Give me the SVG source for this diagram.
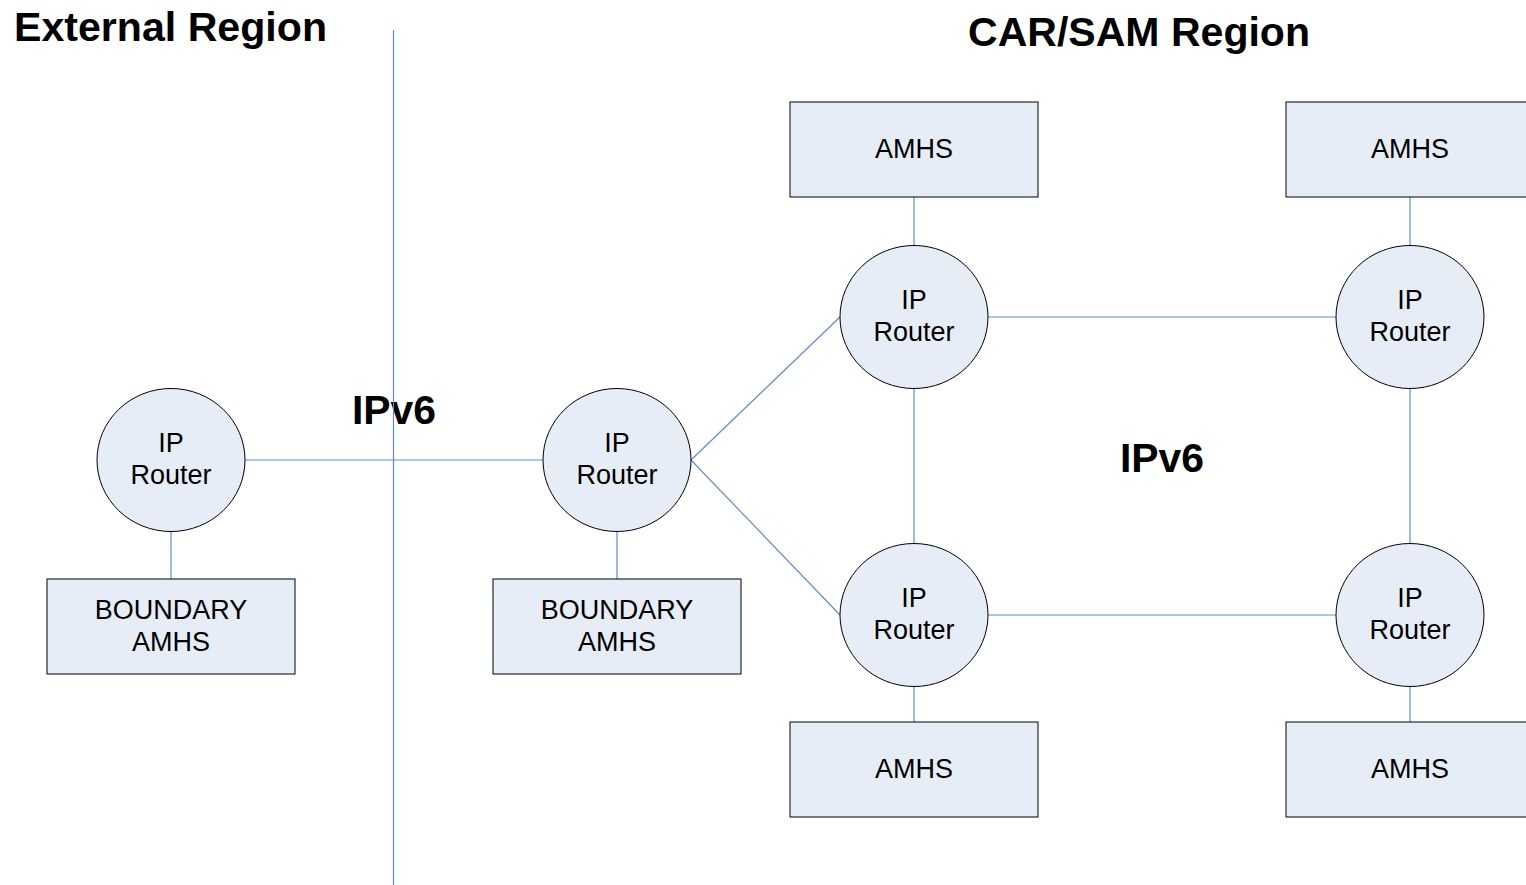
<svg xmlns="http://www.w3.org/2000/svg" width="1526" height="885" viewBox="0 0 1526 885">
<style>
.box{fill:#e7edf7;stroke:#000;stroke-width:1}
.rt{fill:#e7edf7;stroke:#000;stroke-width:1}
.ln{stroke:#6389cc;stroke-width:1.2;fill:none}
.t{font-family:"Liberation Sans",Arial,sans-serif;font-size:27px;fill:#000;text-anchor:middle}
.h{font-family:"Liberation Sans",Arial,sans-serif;font-size:41px;font-weight:bold;fill:#000}
</style>
<rect width="1526" height="885" fill="#fff"/>
<g id="connectors">
<line class="ln" x1="245" y1="460" x2="543" y2="460"/>
<line class="ln" x1="171" y1="531" x2="171" y2="579"/>
<line class="ln" x1="617" y1="531" x2="617" y2="579"/>
<line class="ln" x1="691" y1="460" x2="840" y2="317"/>
<line class="ln" x1="691" y1="460" x2="840" y2="615"/>
<line class="ln" x1="914" y1="197" x2="914" y2="245"/>
<line class="ln" x1="914" y1="388" x2="914" y2="543"/>
<line class="ln" x1="914" y1="686" x2="914" y2="722"/>
<line class="ln" x1="1410" y1="197" x2="1410" y2="245"/>
<line class="ln" x1="1410" y1="388" x2="1410" y2="543"/>
<line class="ln" x1="1410" y1="686" x2="1410" y2="722"/>
<line class="ln" x1="988" y1="317" x2="1336" y2="317"/>
<line class="ln" x1="988" y1="615" x2="1336" y2="615"/>
</g>
<g id="labels">
<text class="h" x="14" y="41" textLength="313" lengthAdjust="spacingAndGlyphs">External Region</text>
<text class="h" x="968" y="46" textLength="342" lengthAdjust="spacingAndGlyphs">CAR/SAM Region</text>
<text class="h" x="352" y="424" textLength="84" lengthAdjust="spacingAndGlyphs">IPv6</text>
<text class="h" x="1120" y="472" textLength="84" lengthAdjust="spacingAndGlyphs">IPv6</text>
</g>
<g id="divider"><line class="ln" x1="393.5" y1="30" x2="393.5" y2="885"/></g>
<g id="router-ext"><ellipse class="rt" cx="171" cy="460" rx="74" ry="71.5"/><text class="t" x="171" y="452">IP</text><text class="t" x="171" y="484">Router</text></g>
<g id="boundary-ext"><rect class="box" x="47" y="579" width="248" height="95"/><text class="t" x="171" y="619">BOUNDARY</text><text class="t" x="171" y="651">AMHS</text></g>
<g id="router-mid"><ellipse class="rt" cx="617" cy="460" rx="74" ry="71.5"/><text class="t" x="617" y="452">IP</text><text class="t" x="617" y="484">Router</text></g>
<g id="boundary-mid"><rect class="box" x="493" y="579" width="248" height="95"/><text class="t" x="617" y="619">BOUNDARY</text><text class="t" x="617" y="651">AMHS</text></g>
<g id="amhs-tl"><rect class="box" x="790" y="102" width="248" height="95"/><text class="t" x="914" y="158">AMHS</text></g>
<g id="amhs-tr"><rect class="box" x="1286" y="102" width="248" height="95"/><text class="t" x="1410" y="158">AMHS</text></g>
<g id="router-tl"><ellipse class="rt" cx="914" cy="317" rx="74" ry="71.5"/><text class="t" x="914" y="309">IP</text><text class="t" x="914" y="341">Router</text></g>
<g id="router-tr"><ellipse class="rt" cx="1410" cy="317" rx="74" ry="71.5"/><text class="t" x="1410" y="309">IP</text><text class="t" x="1410" y="341">Router</text></g>
<g id="router-bl"><ellipse class="rt" cx="914" cy="615" rx="74" ry="71.5"/><text class="t" x="914" y="607">IP</text><text class="t" x="914" y="639">Router</text></g>
<g id="router-br"><ellipse class="rt" cx="1410" cy="615" rx="74" ry="71.5"/><text class="t" x="1410" y="607">IP</text><text class="t" x="1410" y="639">Router</text></g>
<g id="amhs-bl"><rect class="box" x="790" y="722" width="248" height="95"/><text class="t" x="914" y="778">AMHS</text></g>
<g id="amhs-br"><rect class="box" x="1286" y="722" width="248" height="95"/><text class="t" x="1410" y="778">AMHS</text></g>
</svg>
